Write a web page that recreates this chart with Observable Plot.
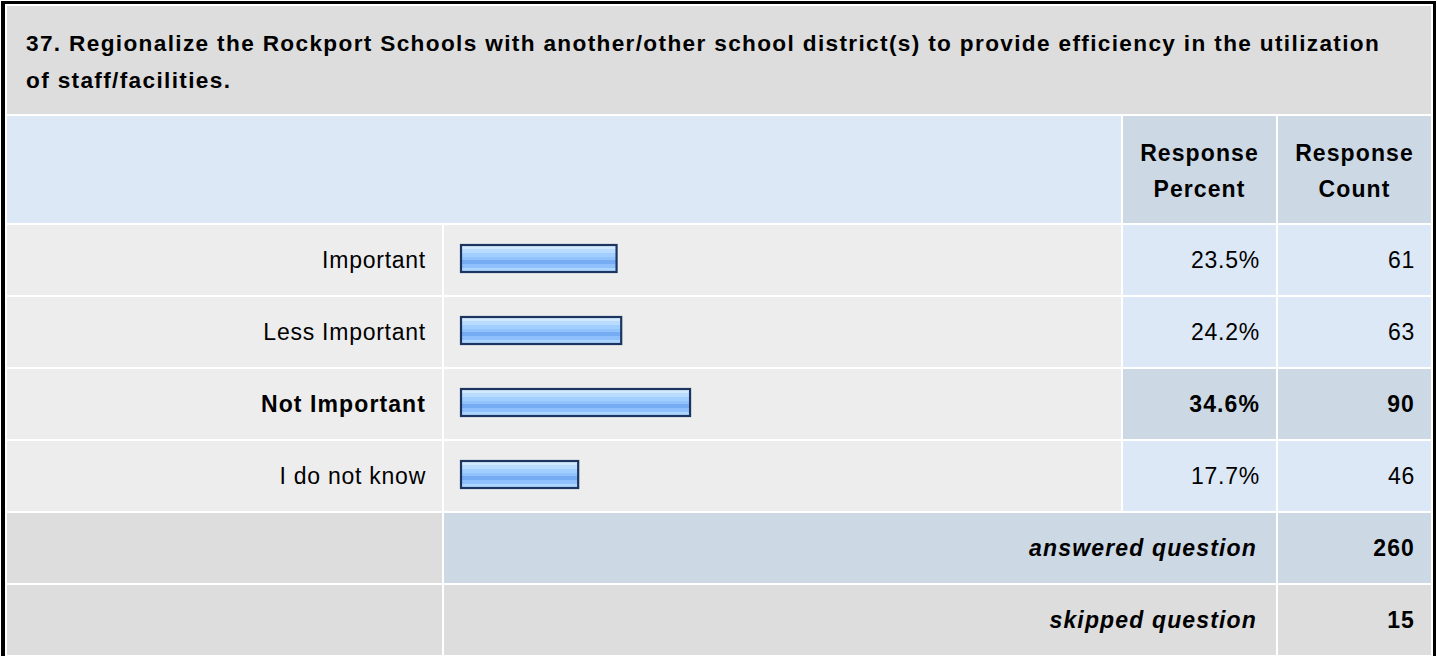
<!DOCTYPE html>
<html>
<head>
<meta charset="utf-8">
<script src="https://cdn.jsdelivr.net/npm/d3@7"></script>
<script src="https://cdn.jsdelivr.net/npm/@observablehq/plot@0.6"></script>
<style>
  html, body { margin: 0; padding: 0; background: #ffffff; }
  body { width: 1437px; height: 656px; overflow: hidden; position: relative;
         font-family: "Liberation Sans", Arial, Helvetica, sans-serif; color: #000; }
  #frame {
    position: absolute; left: 1px; top: 1px;
    border-top: 3px solid #000; border-bottom: 3px solid #000;
    border-left: 4px solid #000; border-right: 3px solid #000;
    padding: 2px; background: #fff;
    display: grid;
    grid-template-columns: 435px 677px 153px 153px;
    grid-template-rows: 108px 107px repeat(6, 70px);
    gap: 2px;
  }
  .cell { box-sizing: border-box; display: flex; align-items: center; font-size: 23px;
          letter-spacing: 0.75px; white-space: nowrap; }
  .title { grid-column: 1 / 5; background: #dddddd; font-weight: bold; font-size: 22.6px;
           line-height: 36.5px; padding: 20px 0 0 19px; display: block; letter-spacing: 1.15px; }
  .hblank { grid-column: 1 / 3; background: #dce8f5; }
  .hcol { background: #cdd8e5; font-weight: bold; justify-content: center; text-align: center;
          line-height: 36.5px; padding-top: 3px; letter-spacing: 1.1px; white-space: normal; }
  .label { background: #ededed; justify-content: flex-end; padding-right: 16px; }
  .barcell { background: #ededed; padding: 0; display: block; }
  .num { background: #dce8f5; justify-content: flex-end; padding-right: 16px; }
  .hi { background: #cdd8e5; }
  .bold { font-weight: bold; letter-spacing: 1.1px; }
  .sumlabel { background: #dddddd; }
  .sumspan { grid-column: 2 / 4; justify-content: flex-end; padding-right: 19px;
             font-weight: bold; font-style: italic; letter-spacing: 1.15px; }
  .sumnum { justify-content: flex-end; padding-right: 16px; font-weight: bold; letter-spacing: 1.1px; }
</style>
</head>
<body>
<svg width="0" height="0" style="position:absolute">
  <defs>
    <linearGradient id="barGrad" x1="0" y1="0" x2="0" y2="1">
      <stop offset="0" stop-color="#d3e9ff"/>
      <stop offset="0.14" stop-color="#d3e9ff"/>
      <stop offset="0.14" stop-color="#b9dbff"/>
      <stop offset="0.30" stop-color="#b9dbff"/>
      <stop offset="0.30" stop-color="#a2ceff"/>
      <stop offset="0.46" stop-color="#a2ceff"/>
      <stop offset="0.46" stop-color="#93c3fd"/>
      <stop offset="0.56" stop-color="#93c3fd"/>
      <stop offset="0.56" stop-color="#76acf3"/>
      <stop offset="0.72" stop-color="#76acf3"/>
      <stop offset="0.72" stop-color="#8fc0fb"/>
      <stop offset="0.86" stop-color="#8fc0fb"/>
      <stop offset="0.86" stop-color="#acd5ff"/>
      <stop offset="1" stop-color="#acd5ff"/>
    </linearGradient>
  </defs>
</svg>
<div id="frame"></div>
<script>
// ---- data ----
const titleLines = [
  "37. Regionalize the Rockport Schools with another/other school district(s) to provide efficiency in the utilization",
  "of staff/facilities."
];
const headerLabels = ["Response Percent", "Response Count"];
const categories = ["Important", "Less Important", "Not Important", "I do not know"];
const percents = [23.5, 24.2, 34.6, 17.7];
const counts = [61, 63, 90, 46];
const summaryLabels = ["answered question", "skipped question"];
const summaryValues = [260, 15];

// ---- build ----
const frame = document.getElementById("frame");
function add(cls) {
  const d = document.createElement("div");
  d.className = "cell " + cls;
  frame.appendChild(d);
  return d;
}
const title = add("title");
const titleSpans = titleLines.map((t, i) => {
  if (i) title.appendChild(document.createElement("br"));
  const s = document.createElement("span");
  s.textContent = t;
  title.appendChild(s);
  return s;
});
// fit the first title line to the reference line length (26px .. 1379px)
{
  const s = titleSpans[0];
  const w = s.getBoundingClientRect().width;
  const n = titleLines[0].length;
  const cur = parseFloat(getComputedStyle(title).letterSpacing) || 0;
  const target = 1353 + cur; // trailing spacing included in measured width
  const ls = cur + (target - w) / n;
  title.style.letterSpacing = ls.toFixed(3) + "px";
}

add("hblank");
headerLabels.forEach(h => {
  const d = add("hcol");
  const parts = h.split(" ");
  d.appendChild(document.createTextNode(parts[0]));
  d.appendChild(document.createElement("br"));
  d.appendChild(document.createTextNode(parts.slice(1).join(" ")));
});

const maxIdx = d3.maxIndex(counts);
categories.forEach((cat, i) => {
  const isHi = i === maxIdx;
  const lab = add("label" + (isHi ? " bold" : ""));
  lab.textContent = cat;
  const bc = add("barcell");
  const chart = Plot.plot({
    width: 677,
    height: 70,
    marginTop: 0, marginBottom: 0, marginLeft: 0, marginRight: 0,
    style: { background: "transparent", overflow: "visible" },
    x: { domain: [0, 100], range: [17, 679], axis: null },
    y: { type: "band", domain: [cat], range: [20, 47], padding: 0, axis: null },
    marks: [
      Plot.barX([{ label: cat, pct: percents[i] }], {
        x: "pct", y: "label",
        fill: "url(#barGrad)", stroke: "#1b3560", strokeWidth: 2.2
      })
    ]
  });
  chart.style.display = "block";
  bc.appendChild(chart);
  const p = add("num" + (isHi ? " hi bold" : ""));
  p.textContent = percents[i].toFixed(1) + "%";
  const c = add("num" + (isHi ? " hi bold" : ""));
  c.textContent = String(counts[i]);
});

summaryLabels.forEach((s, i) => {
  const bg = i === 0 ? "#cdd8e5" : "#dddddd";
  add("sumlabel");
  const sp = add("sumspan");
  sp.style.background = bg;
  sp.textContent = s;
  const n = add("sumnum");
  n.style.background = bg;
  n.textContent = String(summaryValues[i]);
});
</script>
</body>
</html>
